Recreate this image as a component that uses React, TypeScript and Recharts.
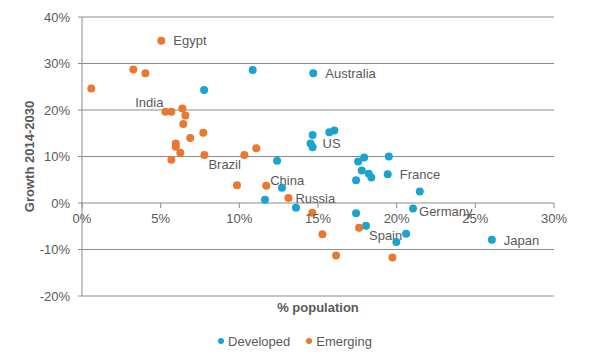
import React from 'react';
import { ScatterChart, Scatter, XAxis, YAxis, ZAxis, CartesianGrid } from 'recharts';

// Developed markets: % population (x) vs growth 2014-2030 (y)
const DEVELOPED_POP = [7.76, 10.85, 14.7, 14.66, 14.53, 14.66, 15.72, 16.04, 12.4, 12.71, 11.63, 13.6, 19.5, 17.93, 17.55, 17.78, 18.23, 18.39, 19.43, 17.42, 21.47, 17.42, 21.04, 18.05, 20.6, 19.98, 26.05];
const DEVELOPED_GROWTH = [24.3, 28.6, 27.9, 14.6, 12.8, 12.0, 15.2, 15.6, 9.1, 3.3, 0.7, -1.0, 10.0, 9.8, 8.9, 7.0, 6.3, 5.5, 6.2, 4.9, 2.5, -2.2, -1.2, -4.9, -6.6, -8.4, -7.9];
const DEVELOPED_NAMES = ['', '', 'Australia', '', 'US', '', '', '', '', '', '', '', '', '', '', '', '', '', 'France', '', '', '', 'Germany', 'Spain', '', '', 'Japan'];

// Emerging markets
const EMERGING_POP = [5.04, 3.26, 4.03, 0.59, 5.3, 5.68, 6.38, 6.57, 6.44, 7.71, 6.88, 5.96, 5.96, 6.25, 5.68, 7.78, 10.32, 11.08, 9.85, 11.71, 13.12, 14.64, 15.28, 17.61, 16.15, 19.73];
const EMERGING_GROWTH = [34.9, 28.7, 27.9, 24.6, 19.6, 19.6, 20.3, 18.8, 17.0, 15.1, 14.0, 12.8, 12.1, 10.8, 9.3, 10.3, 10.3, 11.8, 3.8, 3.7, 1.1, -2.1, -6.7, -5.3, -11.3, -11.7];
const EMERGING_NAMES = ['Egypt', '', '', '', 'India', '', '', '', '', '', '', '', '', '', '', 'Brazil', '', '', '', 'China', 'Russia', '', '', '', '', ''];

const X_TICKS = [0, 5, 10, 15, 20, 25, 30];
const Y_TICKS = [-20, -10, 0, 10, 20, 30, 40];

const developed = DEVELOPED_POP.map((x, i) => ({ x, y: DEVELOPED_GROWTH[i], name: DEVELOPED_NAMES[i] }));
const emerging = EMERGING_POP.map((x, i) => ({ x, y: EMERGING_GROWTH[i], name: EMERGING_NAMES[i] }));

const BLUE = '#1aa3cf';
const ORANGE = '#e8792f';
const GRID = '#8c8c8c';
const TEXT = '#595959';
const FONT = 'Arial, "Liberation Sans", sans-serif';

const W = 590;
const H = 360;
const PLOT_TOP = 17;
const PLOT_LEFT = 82;
const PLOT_RIGHT = 554;
const PLOT_BOTTOM = 296;
const ZERO_Y = PLOT_TOP + ((40 - 0) / (40 - -20)) * (PLOT_BOTTOM - PLOT_TOP);

// where each data label sits relative to its point
const LABEL_POS: Record<string, { dx: number; dy: number; anchor?: string }> = {
  Egypt: { dx: 12, dy: 0 },
  Australia: { dx: 12, dy: 0 },
  India: { dx: -2, dy: -9.5, anchor: 'end' },
  Brazil: { dx: 4, dy: 9.5 },
  China: { dx: 4, dy: -5.5 },
  Russia: { dx: 7, dy: 0.5 },
  US: { dx: 12, dy: -0.5 },
  France: { dx: 12, dy: 0.5 },
  Germany: { dx: 6, dy: 2.5 },
  Spain: { dx: 3, dy: 10 },
  Japan: { dx: 12, dy: 0.5 },
};

const makeShape = (color: string) => (props: any) => {
  const { cx, cy, payload } = props;
  const pos = payload.name ? LABEL_POS[payload.name] : null;
  return (
    <g>
      <circle cx={cx} cy={cy} r={4} fill={color} />
      {pos && (
        <text
          x={cx + pos.dx}
          y={cy + pos.dy}
          dy="0.35em"
          textAnchor={pos.anchor || 'start'}
          fontSize={13}
          fontFamily={FONT}
          fill={TEXT}
        >
          {payload.name}
        </text>
      )}
    </g>
  );
};

const XTick = (props: any) => {
  const { x, payload } = props;
  return (
    <g>
      <line x1={x} x2={x} y1={ZERO_Y} y2={ZERO_Y + 5} stroke={GRID} />
      <text x={x} y={ZERO_Y + 15} dy="0.35em" textAnchor="middle" fontSize={13} fontFamily={FONT} fill={TEXT}>
        {payload.value}%
      </text>
    </g>
  );
};

const LegendItem = ({ color, label }: { color: string; label: string }) => (
  <div style={{ display: 'flex', alignItems: 'center', gap: 4 }}>
    <span style={{ width: 6, height: 6, borderRadius: '50%', background: color, display: 'inline-block' }} />
    <span>{label}</span>
  </div>
);

export default function App() {
  return (
    <div style={{ position: 'absolute', left: 0, top: 0, width: W, height: H, background: '#fff', fontFamily: FONT }}>
      <ScatterChart
        width={W}
        height={H}
        margin={{ top: PLOT_TOP, right: W - PLOT_RIGHT, left: PLOT_LEFT - 60, bottom: H - PLOT_BOTTOM - 30 }}
      >
        <CartesianGrid vertical={false} stroke={GRID} />
        <XAxis
          type="number"
          dataKey="x"
          domain={[0, 30]}
          ticks={X_TICKS}
          interval={0}
          height={30}
          axisLine={false}
          tickLine={false}
          tick={<XTick />}
          label={{
            content: ({ viewBox }: any) => (
              <text
                x={viewBox.x + viewBox.width / 2}
                y={viewBox.y + 11}
                dy="0.35em"
                textAnchor="middle"
                fontSize={13}
                fontWeight="bold"
                fontFamily={FONT}
                fill={TEXT}
              >
                % population
              </text>
            ),
          }}
        />
        <YAxis
          type="number"
          dataKey="y"
          domain={[-20, 40]}
          ticks={Y_TICKS}
          interval={0}
          width={60}
          tickFormatter={(v) => `${v}%`}
          tick={{ fontSize: 13, fontFamily: FONT, fill: TEXT }}
          tickSize={4}
          tickMargin={8}
          axisLine={{ stroke: GRID }}
          tickLine={{ stroke: GRID }}
          label={{
            content: ({ viewBox }: any) => {
              const cx = viewBox.x + 7;
              const cy = viewBox.y + viewBox.height / 2;
              return (
                <text
                  x={cx}
                  y={cy}
                  dy="0.35em"
                  transform={`rotate(-90 ${cx} ${cy})`}
                  textAnchor="middle"
                  fontSize={13}
                  fontWeight="bold"
                  fontFamily={FONT}
                  fill={TEXT}
                >
                  Growth 2014-2030
                </text>
              );
            },
          }}
        />
        <ZAxis range={[50, 50]} />
        <Scatter name="Developed" data={developed} fill={BLUE} shape={makeShape(BLUE)} isAnimationActive={false} />
        <Scatter name="Emerging" data={emerging} fill={ORANGE} shape={makeShape(ORANGE)} isAnimationActive={false} />
      </ScatterChart>
      <div
        style={{
          position: 'absolute',
          left: 0,
          top: 332,
          width: W,
          height: 18,
          display: 'flex',
          justifyContent: 'center',
          alignItems: 'center',
          gap: 16,
          fontSize: 13,
          color: TEXT,
        }}
      >
        <LegendItem color={BLUE} label="Developed" />
        <LegendItem color={ORANGE} label="Emerging" />
      </div>
    </div>
  );
}
